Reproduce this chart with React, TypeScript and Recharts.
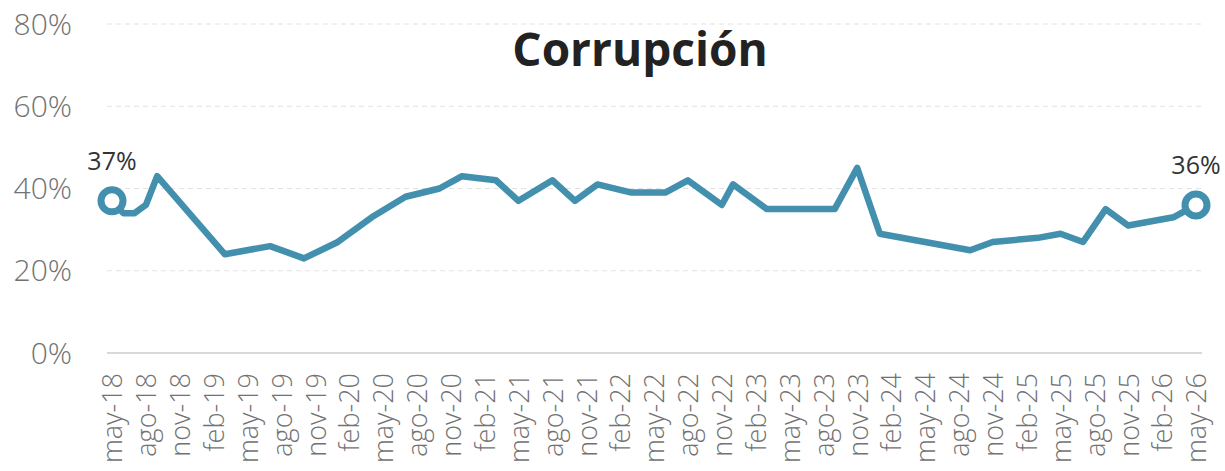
import { LineChart, Line, XAxis, YAxis, CartesianGrid, LabelList } from 'recharts';

// survey dates (yyyy-mm) and share of people naming corruption
const dates = [
  '2018-05', '2018-06', '2018-07', '2018-08', '2018-09', '2019-03', '2019-07', '2019-10',
  '2020-01', '2020-04', '2020-07', '2020-10', '2020-12', '2021-03', '2021-05', '2021-08',
  '2021-10', '2021-12', '2022-03', '2022-06', '2022-08', '2022-11', '2022-12', '2023-03',
  '2023-06', '2023-09', '2023-11', '2024-01', '2024-09', '2024-11', '2025-03', '2025-05',
  '2025-07', '2025-09', '2025-11', '2026-03', '2026-05',
];
const values = [
  37, 34, 34, 36, 43, 24, 26, 23,
  27, 33, 38, 40, 43, 42, 37, 42,
  37, 41, 39, 39, 42, 36, 41, 35,
  35, 35, 45, 29, 25, 27, 28, 29,
  27, 35, 31, 33, 36,
];
const tickLabels = [
  'may-18', 'ago-18', 'nov-18', 'feb-19', 'may-19', 'ago-19', 'nov-19', 'feb-20', 'may-20',
  'ago-20', 'nov-20', 'feb-21', 'may-21', 'ago-21', 'nov-21', 'feb-22', 'may-22', 'ago-22',
  'nov-22', 'feb-23', 'may-23', 'ago-23', 'nov-23', 'feb-24', 'may-24', 'ago-24', 'nov-24',
  'feb-25', 'may-25', 'ago-25', 'nov-25', 'feb-26', 'may-26',
];
const yTicks = [0, 20, 40, 60, 80];

const COLOR = '#4390ae';
const FONT = '"Open Sans", "Noto Sans", sans-serif';

// months since may-18
const toMonth = (d: string) => {
  const [y, m] = d.split('-').map(Number);
  return (y - 2018) * 12 + (m - 5);
};

const data = dates.map((d, i) => ({ m: toMonth(d), v: values[i] }));
const xTicks = tickLabels.map((_, i) => i * 3);
const lastIdx = data.length - 1;

function XTick({ x, y, payload }: any) {
  return (
    <g transform={`translate(${x},${y})`}>
      <text
        transform="rotate(-90)"
        x={-20}
        dy="0.38em"
        textAnchor="end"
        fill="#727272"
        fontSize={27}
        fontWeight={350}
        fontFamily={FONT}
      >
        {tickLabels[Math.round(payload.value / 3)]}
      </text>
    </g>
  );
}

function EndDot({ cx, cy, index }: any) {
  if (index !== 0 && index !== lastIdx) return null;
  return <circle key={index} cx={cx} cy={cy} r={11} fill="#fff" stroke={COLOR} strokeWidth={7} />;
}

function EndLabel({ x, y, value, index }: any) {
  if (index !== 0 && index !== lastIdx) return null;
  return (
    <text x={x} y={y - 31} textAnchor="middle" fill="#333" fontSize={25} fontFamily={FONT}>
      {value}%
    </text>
  );
}

export default function App() {
  return (
    <div style={{ position: 'absolute', top: 0, left: 0, width: 1225, height: 471, background: '#fff', overflow: 'hidden' }}>
      <div
        style={{
          position: 'absolute',
          top: 17,
          left: 0,
          width: 1280,
          textAlign: 'center',
          fontFamily: FONT,
          fontWeight: 700,
          fontSize: 46,
          color: '#222',
          lineHeight: '62px',
        }}
      >
        Corrupción
      </div>
      <LineChart width={1225} height={471} data={data} margin={{ top: 24, right: 23, bottom: 0, left: 0 }}>
        <CartesianGrid vertical={false} stroke="#e2e2e2" strokeDasharray="5 4" />
        <XAxis
          type="number"
          dataKey="m"
          domain={[0, 96]}
          ticks={xTicks}
          interval={0}
          tick={<XTick />}
          tickLine={false}
          tickSize={0}
          tickMargin={0}
          height={118}
          padding={{ left: 5, right: 6 }}
          axisLine={{ stroke: '#d9d9d9', strokeWidth: 2 }}
        />
        <YAxis
          domain={[0, 80]}
          ticks={yTicks}
          width={107}
          axisLine={false}
          tickLine={false}
          tickSize={0}
          tickMargin={35}
          tickFormatter={(v: number) => `${v}%`}
          tick={{ fill: '#727272', fontSize: 30, fontWeight: 350, fontFamily: FONT }}
        />
        <Line
          type="linear"
          dataKey="v"
          stroke={COLOR}
          strokeWidth={6.5}
          strokeLinejoin="round"
          dot={<EndDot />}
          activeDot={false}
          isAnimationActive={false}
        >
          <LabelList dataKey="v" content={<EndLabel />} />
        </Line>
      </LineChart>
    </div>
  );
}
